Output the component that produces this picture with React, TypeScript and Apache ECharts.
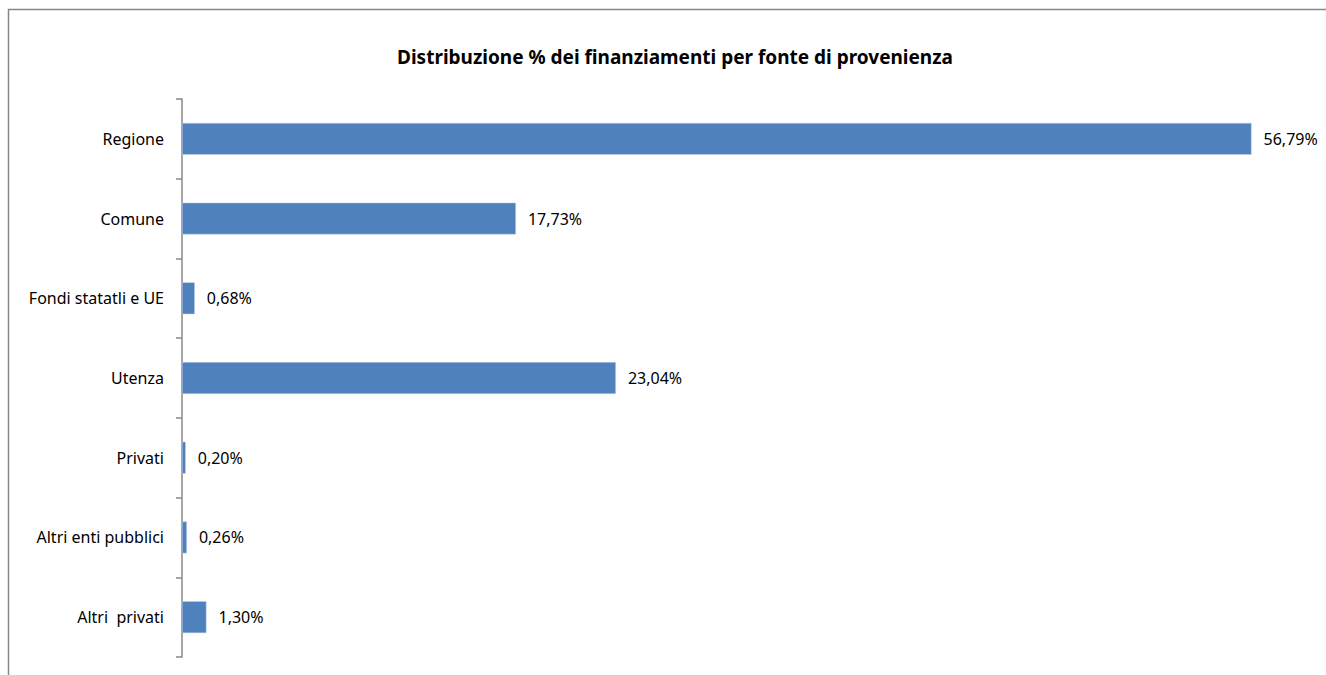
import React, { useEffect, useRef } from "react";
import * as echarts from "echarts";

const categories = [
  "Regione",
  "Comune",
  "Fondi statatli e UE",
  "Utenza",
  "Privati",
  "Altri enti pubblici",
  "Altri  privati",
];
const values = [56.79, 17.73, 0.68, 23.04, 0.2, 0.26, 1.3];
const titleText = "Distribuzione % dei finanziamenti per fonte di provenienza";

export default function App() {
  const ref = useRef<HTMLDivElement>(null);
  useEffect(() => {
    if (!ref.current) return;
    const chart = echarts.init(ref.current, null, { renderer: "svg" });
    const font = "'Noto Sans', sans-serif";
    chart.setOption({
      animation: false,
      backgroundColor: "#ffffff",
      title: {
        text: titleText,
        left: 670,
        textAlign: "center",
        top: 42,
        textStyle: { fontFamily: font, fontSize: 19, fontWeight: "bold", color: "#000" },
      },
      graphic: [
        {
          type: "rect",
          shape: { x: 8.5, y: 9.5, width: 1400, height: 800 },
          style: { fill: "none", stroke: "#888888", lineWidth: 1.5 },
          silent: true,
          z: -10,
        },
      ],
      grid: { left: 182, right: 14, top: 99, bottom: 18, containLabel: false },
      xAxis: {
        type: "value",
        min: 0,
        max: 60,
        show: false,
      },
      yAxis: {
        type: "category",
        data: categories,
        inverse: true,
        axisLine: { show: true, lineStyle: { color: "#888888", width: 1.5 } },
        axisTick: { show: true, length: 6, lineStyle: { color: "#888888", width: 1.5 } },
        axisLabel: { color: "#000", fontFamily: font, fontSize: 16, margin: 18 },
        splitLine: { show: false },
      },
      series: [
        {
          type: "bar",
          data: values,
          barWidth: "40%",
          itemStyle: { color: "#4F81BD", borderColor: "#c9d6ea", borderWidth: 0.5 },
          label: {
            show: true,
            position: "right",
            distance: 12,
            color: "#000",
            fontFamily: font,
            fontSize: 16,
            formatter: (p: any) => p.value.toFixed(2).replace(".", ",") + "%",
          },
        },
      ],
    });
    return () => chart.dispose();
  }, []);
  return (
    <div
      ref={ref}
      style={{ position: "fixed", left: 0, top: 0, width: 1326, height: 675 }}
    />
  );
}
